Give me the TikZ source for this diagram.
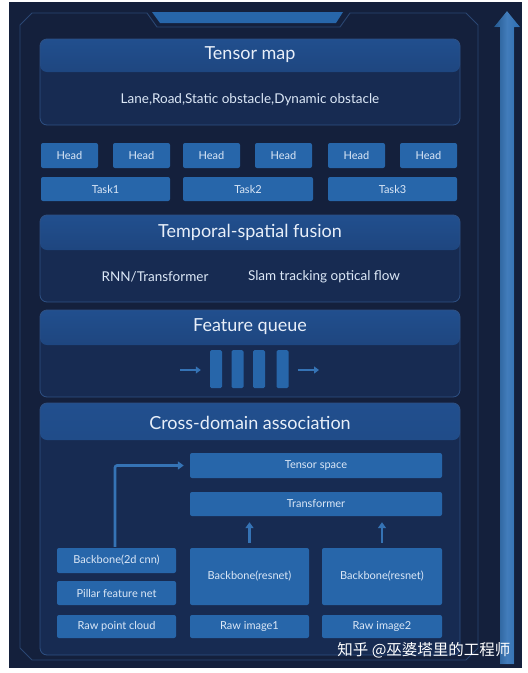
\documentclass[tikz,border=0pt]{standalone}
\usepackage{fontspec}
\setmainfont{Lato}
\newfontfamily\cjk{Noto Sans CJK SC}
\usetikzlibrary{shapes.misc,arrows.meta}
\definecolor{bgc}{HTML}{14203C}
\definecolor{framec}{HTML}{2A4672}
\definecolor{panelc}{HTML}{172B52}
\definecolor{panelline}{HTML}{2E5083}
\definecolor{bandtop}{HTML}{214F8E}
\definecolor{bandbot}{HTML}{1A3869}
\definecolor{boxc}{HTML}{2766AA}
\definecolor{boxtext}{HTML}{DCE8F7}
\definecolor{titletext}{HTML}{E8EFF9}
\definecolor{arrc}{HTML}{3573B5}
\definecolor{bigarr}{HTML}{2D6EB3}
\tikzset{
  panel/.style={rectangle, rounded corners=7pt, draw=panelline, line width=0.8pt,
    fill=panelc, inner sep=0pt,
    path picture={\fill[top color=bandtop,bottom color=bandbot]
      (path picture bounding box.north west) rectangle
      ([yshift=-#1pt]path picture bounding box.north east);}},
  title/.style={text=titletext, font=\fontsize{18}{20}\selectfont},
  body/.style={text=boxtext, font=\fontsize{13.5}{15}\selectfont},
  box/.style={rectangle, rounded corners=2pt, fill=boxc, inner sep=0pt,
    text=boxtext, font=\fontsize{11}{13}\selectfont},
  qbar/.style={rectangle, rounded corners=1.5pt, fill=boxc, inner sep=0pt,
    minimum width=12pt, minimum height=38pt},
  conn/.style={draw=arrc, line width=2.6pt,
    -{Triangle[length=6pt,width=8pt]}},
  qarr/.style={draw=arrc, line width=2.4pt,
    -{Triangle[length=5pt,width=7pt]}}
}
\begin{document}
\begin{tikzpicture}[x=1pt,y=-1pt]
\useasboundingbox (0,0) rectangle (528,673);
\fill[white] (0,0) rectangle (528,673);
\fill[bgc] (9,2) rectangle (522,668);
% outer frame
\draw[framec, line width=0.9pt] (20,25) -- (32,13) -- (147,13) -- (157,27)
  -- (340,27) -- (350,13) -- (466,13) -- (478,25) -- (478,648)
  -- (466,660) -- (32,660) -- (20,648) -- cycle;
\fill[boxc] (152,12) -- (343,12) -- (336,23) -- (160,23) -- cycle;
% big arrow
\fill[left color=bigarr!80!black, right color=bigarr, middle color=bigarr!90!white]
  (500,664) -- (500,27) -- (494,27) -- (507,11) -- (520,27) -- (514,27)
  -- (514,664) -- cycle;
% Tensor map
\node[panel=33, minimum width=420pt, minimum height=86pt] (tm) at (250,82) {};
\node[title] (tmt) at (250,55) {Tensor map};
\node[body] (tmb) at (250,100) {Lane,Road,Static obstacle,Dynamic obstacle};
% heads
\foreach \i/\x in {1/69.5,2/141.5,3/211.5,4/283.5,5/356.5,6/428.5}
  \node[box, minimum width=57pt, minimum height=25pt] (h\i) at (\x,155.5) {Head};
\node[box, minimum width=129pt, minimum height=24pt] (t1) at (105.5,189) {Task1};
\node[box, minimum width=130pt, minimum height=24pt] (t2) at (248,189) {Task2};
\node[box, minimum width=129pt, minimum height=24pt] (t3) at (392.5,189) {Task3};
% Temporal-spatial fusion
\node[panel=35, minimum width=420pt, minimum height=87pt] (tsf) at (250,258.5) {};
\node[title] (tsft) at (250,232) {Temporal-spatial fusion};
\node[body] (rnn) at (155,277) {RNN/Transformer};
\node[body] (slam) at (324,277) {Slam tracking optical flow};
% Feature queue
\node[panel=35, minimum width=420pt, minimum height=87pt] (fq) at (250,353.5) {};
\node[title] (fqt) at (250,327) {Feature queue};
\node[qbar] (q1) at (216,369) {};
\node[qbar] (q2) at (237.5,369) {};
\node[qbar] (q3) at (259,369) {};
\node[qbar] (q4) at (282.5,369) {};
\coordinate (qin) at (180,370);
\coordinate (qout) at (319,370);
\draw[qarr, shorten >=9pt] (qin) -- (q1.west |- qin);
\draw[qarr, shorten <=9pt] (q4.east |- qout) -- (qout);
% Cross-domain association
\node[panel=37, minimum width=420pt, minimum height=252pt] (cda) at (250,529) {};
\node[title] (cdat) at (250,423) {Cross-domain association};
\node[box, minimum width=252pt, minimum height=25pt] (ts) at (316,465.5) {Tensor space};
\node[box, minimum width=252pt, minimum height=24pt] (tf) at (316,504) {Transformer};
\node[box, minimum width=119pt, minimum height=25pt] (b2d) at (116.5,560.5) {Backbone(2d cnn)};
\node[box, minimum width=119pt, minimum height=24pt] (pfn) at (116.5,593) {Pillar feature net};
\node[box, minimum width=119pt, minimum height=23pt] (rpc) at (116.5,626.5) {Raw point cloud};
\node[box, minimum width=119pt, minimum height=57pt] (br1) at (249.5,576.5) {Backbone(resnet)};
\node[box, minimum width=120pt, minimum height=57pt] (br2) at (382,576.5) {Backbone(resnet)};
\node[box, minimum width=119pt, minimum height=23pt] (ri1) at (249.5,626.5) {Raw image1};
\node[box, minimum width=120pt, minimum height=23pt] (ri2) at (382,626.5) {Raw image2};
\draw[conn, shorten >=6pt, shorten <=5pt] (br1.north) -- (br1.north |- tf.south);
\draw[conn, shorten >=6pt, shorten <=5pt] (br2.north) -- (br2.north |- tf.south);
\draw[conn, shorten >=6pt, shorten <=1pt, rounded corners=2pt] ([xshift=-1.5pt]b2d.north) |- (ts.west);
% watermark
\node[text=white, font=\cjk\fontsize{15.5}{17}\selectfont, anchor=east] (wm) at (514,650) {知乎 @巫婆塔里的工程师};
\end{tikzpicture}
\end{document}
